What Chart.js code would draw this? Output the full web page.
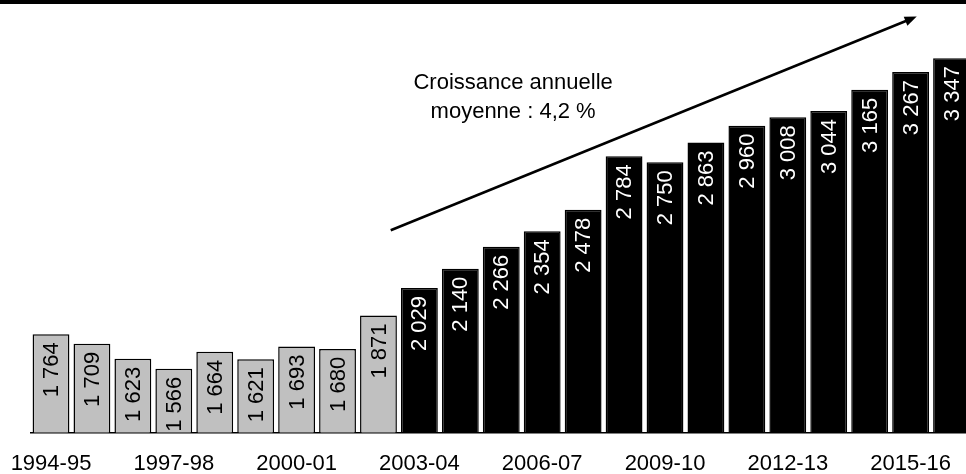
<!DOCTYPE html>
<html>
<head>
<meta charset="utf-8">
<script src="https://cdn.jsdelivr.net/npm/chart.js@4/dist/chart.umd.min.js"></script>
<style>
    html, body { margin: 0; padding: 0; background: #fff; overflow: hidden; }
    #topBar { position: absolute; left: 0; top: 0; width: 966px; height: 4px; background: #000; }
    #wrap { position: absolute; left: 0; top: 0; width: 980px; height: 487px; }
</style>
</head>
<body>
<div id="wrap"><canvas id="chart"></canvas></div>
<div id="topBar"></div>
<script>
const seasons = [
    '1994-95', '1995-96', '1996-97', '1997-98', '1998-99', '1999-00', '2000-01', '2001-02',
    '2002-03', '2003-04', '2004-05', '2005-06', '2006-07', '2007-08', '2008-09', '2009-10',
    '2010-11', '2011-12', '2012-13', '2013-14', '2014-15', '2015-16', '2016-17'
];
const students = [
    1764, 1709, 1623, 1566, 1664, 1621, 1693, 1680,
    1871, 2029, 2140, 2266, 2354, 2478, 2784, 2750,
    2863, 2960, 3008, 3044, 3165, 3267, 3347
];
// the first seasons are drawn in grey
const greySeasons = 9;
const growthText = ['Croissance annuelle', 'moyenne : 4,2 %'];
// arrow in data units: [category index, value]
const arrowFrom = [8.3, 2360];
const arrowTo = [21.15, 3585];
const textAt = [11.29, 3205];

const FONT = '"Liberation Sans", Arial, sans-serif';

function formatNumber(v) {
    return String(v).replace(/\B(?=(\d{3})+(?!\d))/g, ' ');
}

const barLabels = {
    id: 'barLabels',
    afterDatasetsDraw(chart) {
        const ctx = chart.ctx;
        const meta = chart.getDatasetMeta(0);
        ctx.save();
        ctx.font = '22px ' + FONT;
        ctx.textAlign = 'right';
        ctx.textBaseline = 'middle';
        meta.data.forEach((bar, i) => {
            ctx.save();
            ctx.translate(bar.x + 1, bar.y + 8);
            ctx.rotate(-Math.PI / 2);
            ctx.fillStyle = i < greySeasons ? '#000' : '#fff';
            ctx.fillText(formatNumber(students[i]), 0, 0);
            ctx.restore();
        });
        ctx.restore();
    }
};

const growthArrow = {
    id: 'growthArrow',
    afterDraw(chart) {
        const ctx = chart.ctx;
        const x = chart.scales.x;
        const y = chart.scales.y;
        const x1 = x.getPixelForValue(arrowFrom[0]);
        const y1 = y.getPixelForValue(arrowFrom[1]);
        const x2 = x.getPixelForValue(arrowTo[0]);
        const y2 = y.getPixelForValue(arrowTo[1]);
        const angle = Math.atan2(y2 - y1, x2 - x1);
        const head = 13;

        ctx.save();
        ctx.strokeStyle = '#000';
        ctx.fillStyle = '#000';
        ctx.lineWidth = 2.5;
        ctx.beginPath();
        ctx.moveTo(x1, y1);
        ctx.lineTo(x2 - Math.cos(angle) * head * 0.8, y2 - Math.sin(angle) * head * 0.8);
        ctx.stroke();
        ctx.beginPath();
        ctx.moveTo(x2, y2);
        ctx.lineTo(x2 - head * Math.cos(angle - 0.38), y2 - head * Math.sin(angle - 0.38));
        ctx.lineTo(x2 - head * Math.cos(angle + 0.38), y2 - head * Math.sin(angle + 0.38));
        ctx.closePath();
        ctx.fill();

        ctx.font = '22px ' + FONT;
        ctx.textAlign = 'center';
        ctx.textBaseline = 'middle';
        const tx = x.getPixelForValue(textAt[0]);
        const ty = y.getPixelForValue(textAt[1]);
        growthText.forEach((line, i) => ctx.fillText(line, tx, ty + i * 29));
        ctx.restore();
    }
};

new Chart(document.getElementById('chart').getContext('2d'), {
    type: 'bar',
    data: {
        labels: seasons,
        datasets: [{
            data: students,
            backgroundColor: students.map((v, i) => i < greySeasons ? '#c0c0c0' : '#000'),
            borderColor: '#000',
            borderWidth: 1.5,
            categoryPercentage: 0.9,
            barPercentage: 1
        }]
    },
    options: {
        responsive: true,
        maintainAspectRatio: false,
        animation: false,
        layout: { padding: { left: 29, right: 8, top: 14, bottom: 0 } },
        plugins: {
            legend: { display: false },
            tooltip: { enabled: false }
        },
        scales: {
            x: {
                grid: { display: false },
                border: { display: true, color: '#000', width: 1.5 },
                ticks: {
                    autoSkip: false,
                    maxRotation: 0,
                    color: '#000',
                    padding: 10,
                    font: { family: FONT, size: 22 },
                    callback: (value, index) => index % 3 === 0 ? seasons[index] : ''
                }
            },
            y: {
                display: false,
                min: 1200,
                max: 3600
            }
        }
    },
    plugins: [barLabels, growthArrow]
});
</script>
</body>
</html>
